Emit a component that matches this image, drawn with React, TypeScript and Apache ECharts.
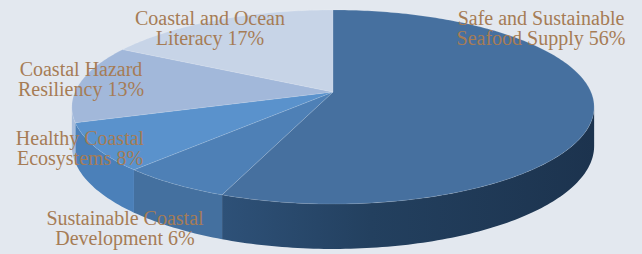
import { useEffect, useRef } from "react";
import * as echarts from "echarts";

// ---- data ----
const categoryLines: string[][] = [
  ["Safe and Sustainable", "Seafood Supply"],
  ["Sustainable Coastal", "Development"],
  ["Healthy Coastal", "Ecosystems"],
  ["Coastal Hazard", "Resiliency"],
  ["Coastal and Ocean", "Literacy"],
];
const shares = [56, 6, 8, 13, 17];

// ---- styles / layout ----
const topColors = ["#46709f", "#4e80b6", "#5a92cc", "#a2b8da", "#c7d4e7"];
const sideColors = ["#23405f", "#44709f", "#4b80b9", "#a8bddc", "#b9c9e0"];
const labelAnchors: [number, number][] = [
  [541, 28],
  [125, 228],
  [80, 148],
  [81, 79],
  [210, 28],
];
// perspective projection of a tilted disc
const geom = { cx: 333, cy: 92, A: 258, B: 94.7, k: 0.1546, depth: 38 };

const total = shares.reduce((a, b) => a + b, 0);
const starts: number[] = [];
{
  let acc = 0;
  for (const v of shares) {
    starts.push((acc / total) * Math.PI * 2);
    acc += v;
  }
}

function pt(theta: number, down = false): number[] {
  const X = Math.sin(theta);
  const Z = -Math.cos(theta);
  const s = 1 / (1 - geom.k * Z);
  return [
    geom.cx + geom.A * X * s,
    geom.cy + geom.B * Z * s + (down ? geom.depth * s : 0),
  ];
}

function arcPoints(a0: number, a1: number, down = false): number[][] {
  const n = Math.max(2, Math.ceil(((a1 - a0) * 180) / Math.PI));
  const out: number[][] = [];
  for (let i = 0; i <= n; i++) out.push(pt(a0 + ((a1 - a0) * i) / n, down));
  return out;
}

// silhouette angles (where the rim is at its horizontal extreme)
const thetaStar = Math.acos(-geom.k);

export default function App() {
  const ref = useRef<HTMLDivElement>(null);
  useEffect(() => {
    if (!ref.current) return;
    const chart = echarts.init(ref.current, undefined, { renderer: "svg" });
    const data = shares.map((v, i) => ({ value: v, name: categoryLines[i].join(" ") }));

    chart.setOption({
      animation: false,
      backgroundColor: "#e3e8ef",
      series: [
        {
          type: "custom",
          coordinateSystem: "none",
          z: 2,
          silent: true,
          data,
          renderItem: (params: any, api: any) => {
            const i = params.dataIndex;
            const a0 = starts[i];
            const a1 = a0 + (api.value(0) / total) * Math.PI * 2;
            const s0 = Math.max(a0, thetaStar);
            const s1 = Math.min(a1, Math.PI * 2 - thetaStar);
            if (s1 <= s0) return { type: "group", children: [] };
            const top = arcPoints(s0, s1, false);
            const bottom = arcPoints(s0, s1, true).reverse();
            const fill =
              i === 0
                ? new echarts.graphic.LinearGradient(0, 0, 1, 0, [
                    { offset: 0, color: "#2e5178" },
                    { offset: 0.4, color: "#23405f" },
                    { offset: 1, color: "#1c334e" },
                  ])
                : sideColors[i];
            return {
              type: "polygon",
              shape: { points: top.concat(bottom) },
              style: { fill, stroke: null },
            };
          },
        },
        {
          type: "custom",
          coordinateSystem: "none",
          z: 3,
          silent: true,
          data,
          renderItem: (params: any, api: any) => {
            const i = params.dataIndex;
            const a0 = starts[i];
            const a1 = a0 + (api.value(0) / total) * Math.PI * 2;
            const pts = [[geom.cx, geom.cy]].concat(arcPoints(a0, a1, false));
            return {
              type: "polygon",
              shape: { points: pts },
              style: { fill: topColors[i], stroke: "rgba(255,255,255,0.12)", lineWidth: 1 },
            };
          },
        },
        {
          type: "custom",
          coordinateSystem: "none",
          z: 4,
          silent: true,
          data,
          renderItem: (params: any, api: any) => {
            const i = params.dataIndex;
            const lines = categoryLines[i];
            const text = lines[0] + "\n" + lines[1] + " " + api.value(0) + "%";
            return {
              type: "text",
              x: labelAnchors[i][0],
              y: labelAnchors[i][1],
              style: {
                text,
                fill: "#a67c55",
                fontFamily: "Liberation Serif",
                fontSize: 20,
                lineHeight: 20,
                align: "center",
                verticalAlign: "middle",
              },
            };
          },
        },
      ],
    });
    return () => chart.dispose();
  }, []);
  return (
    <div
      ref={ref}
      style={{ position: "fixed", left: 0, top: 0, width: 642, height: 254 }}
    />
  );
}
